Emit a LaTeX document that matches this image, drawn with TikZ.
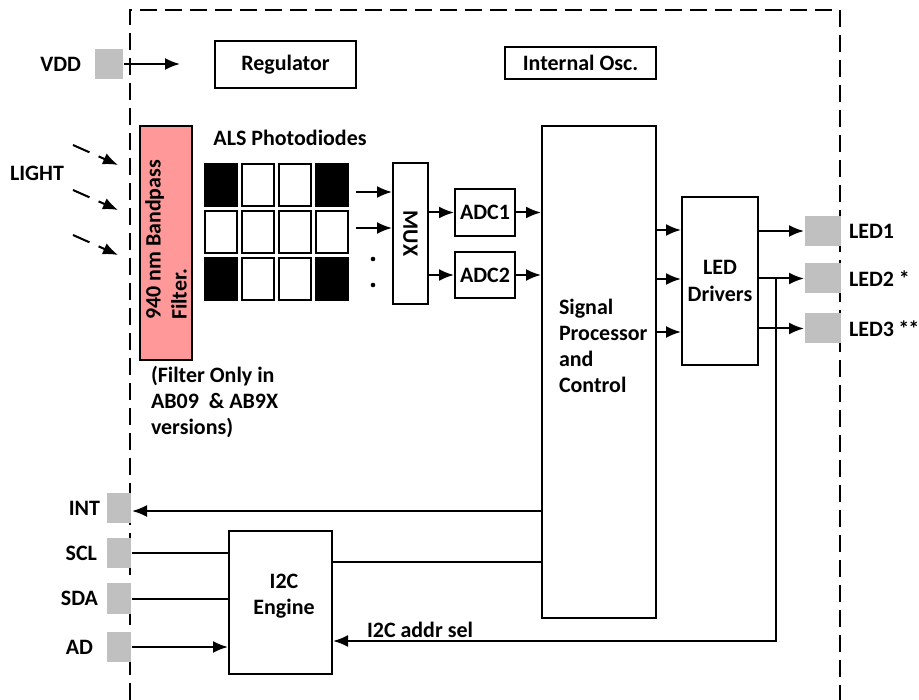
\documentclass[tikz,border=0pt]{standalone}
\usepackage{fontspec}
\setmainfont{Carlito}
\usetikzlibrary{arrows.meta,positioning}
\definecolor{filterpink}{RGB}{255,153,153}
\definecolor{padgray}{RGB}{192,192,192}
\begin{document}
\begin{tikzpicture}[x=0.2mm, y=-0.2mm, line width=0.4mm,
    font=\fontsize{12.5}{14.9}\selectfont\bfseries,
    >={Latex[length=3mm,width=2.4mm]},
    box/.style={draw, inner sep=0pt, align=center},
    pad/.style={fill=padgray, inner sep=0pt, minimum width=#1, minimum height=6mm},
    cell/.style={draw, inner sep=0pt, minimum width=6.4mm, minimum height=8.4mm},
    lbl/.style={inner sep=0pt, align=left}]
    \useasboundingbox (0,0) rectangle (919,700);

    \draw[dash pattern=on 3.4mm off 1.6mm] (130,700) -- (130,10) -- (840,10) -- (840,700);

    \node[pad=5.6mm] (vddpad) at (109,64) {};
    \node[lbl, left=2.4mm of vddpad] (vddlbl) {VDD};
    \coordinate (vddend) at (180,64);
    \draw[->] (vddpad.east) -- (vddend);

    \node[box, minimum width=28.2mm, minimum height=9.4mm] (reg) at (285.5,64.5) {Regulator};
    \node[box, minimum width=30.2mm, minimum height=6.4mm] (osc) at (580.5,63) {Internal Osc.};

    \node[box, fill=filterpink, minimum width=10.4mm, minimum height=46.8mm] (filter) at (166,243) {};
    \node[lbl, rotate=90] (filtertxt) at (166,240) {940 nm Bandpass\\Filter.};
    \node[lbl, anchor=north west] (note) at (150,365) {(Filter Only in\\AB09\ \ \& AB9X\\versions)};

    \node[lbl] (light) at (37,173) {LIGHT};
    \foreach \y in {145,190,235}
        \draw[->, dash pattern=on 3.6mm off 2mm] (73,\y) -- ++(45,20);

    \node[lbl] (als) at (290,138) {ALS Photodiodes};
    \foreach \i in {0,...,3}
        \foreach \j in {0,...,2}
            \node[cell] (pd\i\j) at ({221+37*\i},{185+47*\j}) {};
    \foreach \i/\j in {0/0,3/0,0/2,3/2}
        \fill (pd\i\j.south west) rectangle (pd\i\j.north east);

    \node[box, minimum width=7mm, minimum height=28.2mm] (mux) at (410.5,233.5) {};
    \node[rotate=-90] (muxtxt) at (mux) {MUX};
    \foreach \y in {192,228}
        \draw[->] (356,\y) -- (mux.west |- 0,\y);
    \fill (373,259) circle (1.3pt);
    \fill (373,285) circle (1.3pt);

    \node[box, minimum width=12mm, minimum height=9.4mm] (adc1) at (485,212.5) {ADC1};
    \node[box, minimum width=12mm, minimum height=9.2mm] (adc2) at (485,275) {ADC2};
    \draw[->] (mux.east |- adc1) -- (adc1.west);
    \draw[->] (mux.east |- adc2) -- (adc2.west);

    \node[box, minimum width=22.8mm, minimum height=98.4mm] (sp) at (599,372) {};
    \node[lbl, anchor=north west] (sptxt) at (558,298) {Signal\\Processor\\and\\Control};
    \draw[->] (adc1.east) -- (adc1 -| sp.west);
    \draw[->] (adc2.east) -- (adc2 -| sp.west);

    \node[box, minimum width=15.2mm, minimum height=33.6mm] (drv) at (720,281) {LED\\Drivers};
    \foreach \y in {230,279,332}
        \draw[->] (sp.east |- 0,\y) -- (drv.west |- 0,\y);

    \node[pad=7.2mm] (led1) at (823,231) {};
    \node[pad=7.2mm] (led2) at (823,278.5) {};
    \node[pad=7.2mm] (led3) at (823,328.5) {};
    \node[lbl, right=1.2mm of led1] (led1lbl) {LED1};
    \node[lbl, right=1.2mm of led2] (led2lbl) {LED2 *};
    \node[lbl, right=1.2mm of led3] (led3lbl) {LED3\hspace{0.2em}*\kern-0.5pt*};
    \draw[->] (drv.east |- led1) -- (led1.west);
    \draw[->] (drv.east |- led2) -- (led2.west);
    \draw[->] (drv.east |- led3) -- (led3.west);

    \node[box, minimum width=20.6mm, minimum height=28.6mm] (i2c) at (280.5,602.5) {};
    \node[align=center, inner sep=0pt] (i2ctxt) at (284,596) {I2C\\Engine};

    \coordinate (tap) at (776,279);
    \draw[->] (tap) |- (i2c.east |- 0,641);
    \node[lbl, anchor=base] (addrlbl) at (420,637) {I2C addr sel};

    \node[pad=4.8mm] (intpad) at (119,508) {};
    \node[pad=4.8mm] (sclpad) at (119,553) {};
    \node[pad=4.8mm] (sdapad) at (119,598.5) {};
    \node[pad=4.8mm] (adpad) at (119,647) {};
    \node[lbl, left=1mm of intpad] (intlbl) {INT};
    \node[lbl, left=1.6mm of sclpad] (scllbl) {SCL};
    \node[lbl, left=1.4mm of sdapad] (sdalbl) {SDA};
    \node[lbl, left=2.4mm of adpad] (adlbl) {AD};

    \draw[->] (sp.west |- 0,511) -- (intpad.east |- 0,511);
    \draw (sclpad.east) -- (sclpad -| i2c.west);
    \draw (sdapad.east) -- (sdapad -| i2c.west);
    \draw[->] (adpad.east) -- (adpad -| i2c.west);
    \draw (i2c.east |- 0,562) -- (sp.west |- 0,562);
\end{tikzpicture}
\end{document}
